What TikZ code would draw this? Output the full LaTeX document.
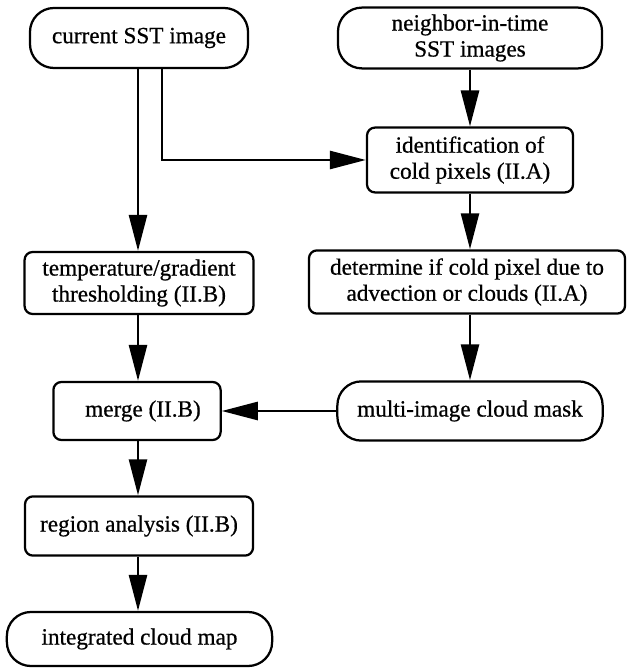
\documentclass[tikz,border=0pt]{standalone}
\usepackage{fontspec}
\newfontface\chartfont[FakeBold=0.7]{Liberation Serif}
\usetikzlibrary{arrows.meta,positioning,calc}

\begin{document}
\begin{tikzpicture}[x=0.025cm,y=-0.025cm, font=\chartfont\fontsize{16.5}{18.5}\selectfont]
  \tikzstyle{terminal}=[rectangle, draw, line width=1.6pt, rounded corners=0.6cm, align=center, inner sep=2pt]
  \tikzstyle{process}=[rectangle, draw, line width=1.6pt, rounded corners=0.2cm, align=center, inner sep=2pt]
  \tikzstyle{flow}=[line width=1.9pt, -{Triangle[length=0.9cm,width=0.45cm]}]
  \useasboundingbox (0,0) rectangle (627,668);

  % Entradas
  \node[terminal, minimum width=5.45cm, minimum height=1.5cm] (cur) at (139,38) {current SST image};
  \node[terminal, minimum width=6.6cm, minimum height=1.52cm] (neigh) at (470,38) {neighbor-in-time\\SST images};

  % Rama multi-imagen
  \node[process, minimum width=5.15cm, minimum height=1.62cm] (ident) at (470,160) {identification of\\cold pixels (II.A)};
  \node[process, minimum width=7.9cm, minimum height=1.58cm] (det) at (467,282) {determine if cold pixel due to\\advection or clouds (II.A)};
  \node[terminal, minimum width=6.63cm, minimum height=1.48cm] (mask) at (470,411) {multi-image cloud mask};

  % Rama de una imagen
  \node[process, minimum width=5.72cm, minimum height=1.55cm] (thresh) at (139,283) {temperature/gradient\\thresholding (II.B)};
  \node[process, minimum width=4.18cm, minimum height=1.45cm] (merge) at (137,411) {\hspace{0.3cm}merge (II.B)};
  \node[process, minimum width=5.7cm, minimum height=1.48cm] (region) at (139,526) {region analysis (II.B)};
  \node[terminal, minimum width=6.63cm, minimum height=1.35cm] (map) at (139.5,639) {integrated cloud map};

  % Conexiones
  \draw[flow] (cur.south -| 138,0) -- (thresh.north -| 138,0);
  \draw[flow] (cur.south -| 162,0) |- (ident.west);
  \draw[flow] (neigh) -- (ident);
  \draw[flow] (ident) -- (det.north -| ident.south);
  \draw[flow] (det.south -| mask.north) -- (mask);
  \draw[flow] (thresh.south -| 138,0) -- (merge.north -| 138,0);
  \draw[flow] (mask) -- (merge);
  \draw[flow] (merge.south -| 138,0) -- (region.north -| 138,0);
  \draw[flow] (region.south -| 138,0) -- (map.north -| 138,0);
\end{tikzpicture}
\end{document}
